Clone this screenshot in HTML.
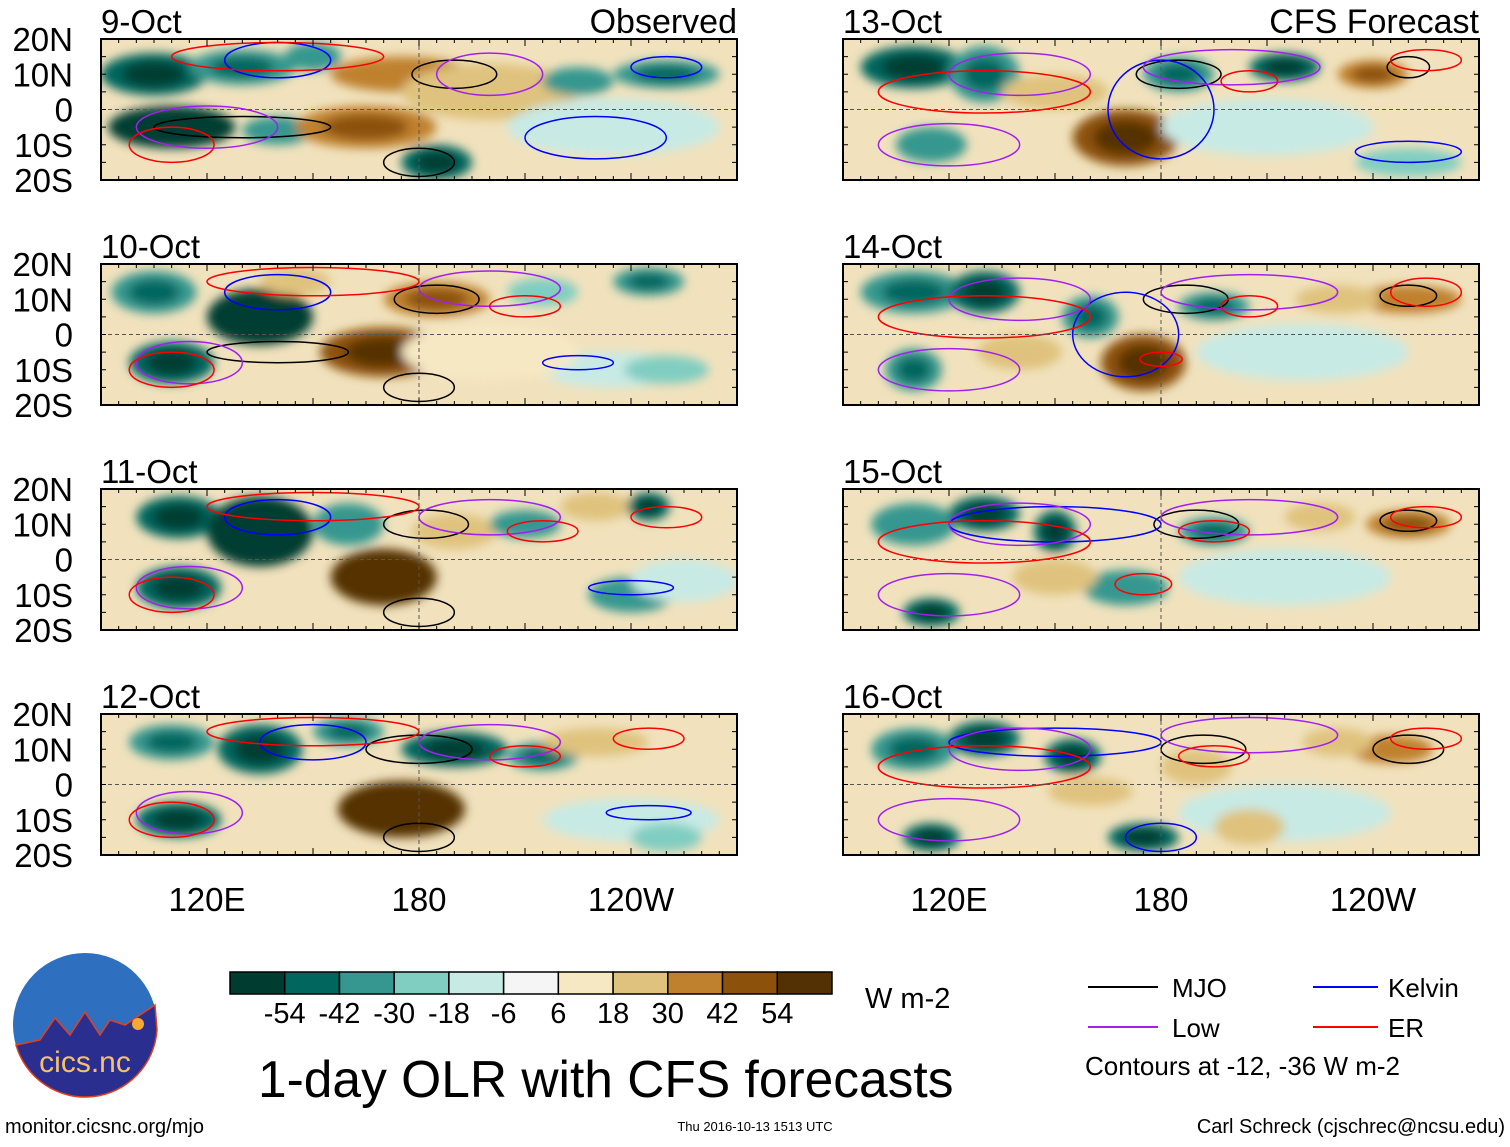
<!DOCTYPE html>
<html><head><meta charset="utf-8"><style>
body{margin:0;background:#fff;width:1510px;height:1142px;overflow:hidden;font-family:"Liberation Sans",sans-serif}
svg text{font-family:"Liberation Sans",sans-serif}
</style></head><body>
<svg id="chart" width="1510" height="1142" viewBox="0 0 1510 1142" xmlns="http://www.w3.org/2000/svg">
<defs>
<filter id="blur" x="-20%" y="-20%" width="140%" height="140%"><feGaussianBlur stdDeviation="5"/></filter>
</defs>
<g id="panels"></g>
<g id="colorbar"></g>
<text x="865" y="1008" font-size="29">W m-2</text>
<text x="258" y="1097" font-size="51.5">1-day OLR with CFS forecasts</text>
<g>
<line x1="1088" y1="987" x2="1158" y2="987" stroke="#000" stroke-width="2"/><text x="1172" y="997" font-size="26">MJO</text>
<line x1="1313" y1="987" x2="1378" y2="987" stroke="#0000ff" stroke-width="2"/><text x="1388" y="997" font-size="26">Kelvin</text>
<line x1="1088" y1="1027" x2="1158" y2="1027" stroke="#a020f0" stroke-width="2"/><text x="1172" y="1037" font-size="26">Low</text>
<line x1="1313" y1="1027" x2="1378" y2="1027" stroke="#ff0000" stroke-width="2"/><text x="1388" y="1037" font-size="26">ER</text>
<text x="1085" y="1075" font-size="26">Contours at -12, -36 W m-2</text>
</g>
<g>
<circle cx="85" cy="1025" r="72" fill="#2e6fc0"/>
<path d="M16 1045 L40 1040 L55 1018 L70 1035 L85 1012 L100 1035 L110 1020 L125 1025 L155 1005 L157 1030 A72 72 0 0 1 16 1045Z" fill="#2a2f8f" stroke="#e04020" stroke-width="1.5"/>
<circle cx="138" cy="1024" r="6" fill="#f6a830"/>
<text x="85" y="1072" font-size="30" fill="#f6c070" text-anchor="middle">cics.nc</text>
</g>
<text x="5" y="1133" font-size="20">monitor.cicsnc.org/mjo</text>
<text x="755" y="1131" font-size="13" text-anchor="middle">Thu 2016-10-13 1513 UTC</text>
<text x="1505" y="1133" font-size="20" text-anchor="end">Carl Schreck (cjschrec@ncsu.edu)</text>
</svg>
<script>
const levels=['-54','-42','-30','-18','-6','6','18','30','42','54'];
const colors=['#003c30','#01665e','#35978f','#80cdc1','#c7eae5','#f5f5f5','#f6e8c3','#dfc27d','#bf812d','#8c510a','#543005'];
const dates=['9-Oct','10-Oct','11-Oct','12-Oct','13-Oct','14-Oct','15-Oct','16-Oct'];
const latTicks=['20N','10N','0','10S','20S'];
const lonTicks=[[120,'120E'],[180,'180'],[240,'120W']];
// blobs: [lon, lat, rlon, rlat, olr anomaly]
const blobsObs=[
 [[105,10,15,6,-50],[130,12,15,5,-40],[110,-5,18,6,-55],[140,-6,10,4,-30],[165,-5,20,6,40],[175,10,20,5,35],[185,-15,10,5,-50],[200,5,25,8,20],[225,8,10,4,-30],[250,10,15,4,-40],[235,-5,30,8,-6],[150,15,8,4,-30]],
 [[105,12,12,6,-40],[135,5,15,8,-55],[110,-8,12,6,-50],[170,-5,18,7,50],[185,10,15,5,40],[215,12,10,4,-20],[235,-10,20,5,-10],[250,-10,12,4,-25],[145,15,10,4,25],[200,-5,25,8,15],[245,15,10,4,-40]],
 [[112,12,12,6,-45],[135,8,15,10,-55],[112,-8,12,6,-45],[170,-5,15,8,55],[160,10,10,6,-35],[190,8,12,5,30],[210,10,10,4,-30],[240,-10,12,5,-35],[255,-6,15,6,-6],[230,15,10,4,30],[245,15,6,4,-45]],
 [[110,12,12,5,-40],[135,10,12,7,-45],[112,-10,12,5,-45],[175,-7,18,8,55],[190,10,15,5,-45],[160,15,10,4,-40],[215,8,10,4,-40],[240,-10,25,6,-6],[250,-15,10,4,-20],[230,12,15,4,25]],
 [[110,12,15,6,-45],[130,10,10,8,-40],[150,5,15,5,30],[170,-8,15,8,45],[185,10,10,5,-40],[215,12,10,4,-45],[240,10,10,4,40],[210,-5,30,8,-6],[250,-15,15,4,-20],[115,-10,10,5,-30]],
 [[110,12,15,6,-40],[130,12,10,6,-45],[160,5,8,6,-40],[175,-8,12,8,45],[195,8,10,4,-40],[250,10,15,4,35],[220,-5,30,8,-6],[110,-10,8,6,-40],[140,-5,12,5,20],[230,10,12,4,20]],
 [[110,10,12,6,-35],[130,13,10,5,-45],[150,8,6,6,-45],[170,-8,12,5,-30],[195,8,10,4,-40],[250,10,12,4,40],[215,-5,30,8,-6],[115,-15,8,4,-50],[150,-5,12,5,25],[225,12,10,4,20]],
 [[110,10,12,6,-40],[130,13,10,5,-50],[155,8,8,5,-45],[175,-15,10,4,-50],[190,5,10,5,30],[245,10,12,4,35],[215,-8,30,8,-6],[115,-15,8,4,-50],[205,-12,10,5,30],[230,12,10,4,20],[160,-2,12,4,25]]
];
// contours: [lon, lat, rlon, rlat, type]
const contours=[
 [[190,10,12,4,'mjo'],[130,-5,25,3,'mjo'],[180,-15,10,4,'mjo'],[140,14,15,5,'kelvin'],[200,10,15,6,'low'],[140,15,30,4,'er'],[120,-5,20,6,'low'],[230,-8,20,6,'kelvin'],[110,-10,12,5,'er'],[250,12,10,3,'kelvin']],
 [[185,10,12,4,'mjo'],[140,-5,20,3,'mjo'],[180,-15,10,4,'mjo'],[140,12,15,5,'kelvin'],[200,13,20,5,'low'],[150,15,30,4,'er'],[115,-8,15,6,'low'],[225,-8,10,2,'kelvin'],[110,-10,12,5,'er'],[210,8,10,3,'er']],
 [[182,10,12,4,'mjo'],[180,-15,10,4,'mjo'],[140,12,15,5,'kelvin'],[200,12,20,5,'low'],[150,15,30,4,'er'],[115,-8,15,6,'low'],[240,-8,12,2,'kelvin'],[110,-10,12,5,'er'],[215,8,10,3,'er'],[250,12,10,3,'er']],
 [[180,10,15,4,'mjo'],[180,-15,10,4,'mjo'],[150,12,15,5,'kelvin'],[200,12,20,5,'low'],[150,15,30,4,'er'],[115,-8,15,6,'low'],[245,-8,12,2,'kelvin'],[110,-10,12,5,'er'],[210,8,10,3,'er'],[245,13,10,3,'er']],
 [[185,10,12,4,'mjo'],[250,12,6,3,'mjo'],[180,0,15,14,'kelvin'],[140,10,20,6,'low'],[200,12,25,5,'low'],[130,5,30,6,'er'],[120,-10,20,6,'low'],[250,-12,15,3,'kelvin'],[205,8,8,3,'er'],[255,14,10,3,'er']],
 [[187,10,12,4,'mjo'],[250,11,8,3,'mjo'],[170,0,15,12,'kelvin'],[140,10,20,6,'low'],[205,12,25,5,'low'],[130,5,30,6,'er'],[120,-10,20,6,'low'],[180,-7,6,2,'er'],[205,8,8,3,'er'],[255,12,10,4,'er']],
 [[190,10,12,4,'mjo'],[250,11,8,3,'mjo'],[150,10,30,5,'kelvin'],[140,10,20,6,'low'],[205,12,25,5,'low'],[130,5,30,6,'er'],[120,-10,20,6,'low'],[175,-7,8,3,'er'],[195,8,10,3,'er'],[255,12,10,3,'er']],
 [[192,10,12,4,'mjo'],[250,10,10,4,'mjo'],[150,12,30,4,'kelvin'],[140,10,20,6,'low'],[205,14,25,5,'low'],[130,5,30,6,'er'],[120,-10,20,6,'low'],[180,-15,10,4,'kelvin'],[195,8,10,3,'er'],[255,13,10,3,'er']]
];
const ctColor={mjo:'#000',kelvin:'#0000ff',low:'#a020f0',er:'#ff0000'};
const NS='http://www.w3.org/2000/svg';
const PW=636,PH=141;
const originsX=[101,843],originsY=[39,264,489,714];
function colorFor(v){const b=[-54,-42,-30,-18,-6,6,18,30,42,54];let i=0;while(i<b.length&&v>b[i])i++;return colors[i];}
function mk(t,a,p){const e=document.createElementNS(NS,t);for(const k in a)e.setAttribute(k,a[k]);p.appendChild(e);return e;}
const root=document.getElementById('panels');
for(let i=0;i<8;i++){
 const col=i<4?0:1,row=i%4;
 const ox=originsX[col],oy=originsY[row];
 const xs=lon=>ox+(lon-90)/180*PW, ys=lat=>oy+(20-lat)/40*PH;
 const g=mk('g',{},root);
 
 
 const cid='clip'+i;
 const cp=mk('clipPath',{id:cid},g);mk('rect',{x:ox,y:oy,width:PW,height:PH},cp);
 const inner=mk('g',{'clip-path':'url(#'+cid+')'},g);
 mk('rect',{x:ox,y:oy,width:PW,height:PH,fill:'#f1e2bd'},inner);
 const bg=mk('g',{filter:'url(#blur)'},inner);
 blobsObs[i].forEach(b=>{
  const e=mk('ellipse',{cx:xs(b[0]),cy:ys(b[1]),rx:b[2]/180*PW,ry:b[3]/40*PH,fill:colorFor(b[4])},bg);
  
  
  if(Math.abs(b[4])>35){mk('ellipse',{cx:xs(b[0]),cy:ys(b[1]),rx:b[2]/180*PW*0.6,ry:b[3]/40*PH*0.6,fill:colorFor(b[4]*1.3)},bg);}
 });
 contours[i].forEach(c=>{
  const e=mk('ellipse',{cx:xs(c[0]),cy:ys(c[1]),rx:c[2]/180*PW,ry:c[3]/40*PH,fill:'none',stroke:ctColor[c[4]],'stroke-width':1.5},inner);
  
  
 });
 mk('line',{x1:ox,y1:ys(0),x2:ox+PW,y2:ys(0),stroke:'#555','stroke-dasharray':'4,3','stroke-width':1},inner);
 mk('line',{x1:xs(180),y1:oy,x2:xs(180),y2:oy+PH,stroke:'#555','stroke-dasharray':'4,3','stroke-width':1},inner);
 mk('rect',{x:ox,y:oy,width:PW,height:PH,fill:'none',stroke:'#000','stroke-width':2},g);
 for(let l=95;l<270;l+=5){const len=(l%30==0)?7:4;mk('line',{x1:xs(l),y1:oy,x2:xs(l),y2:oy+len,stroke:'#000'},g);mk('line',{x1:xs(l),y1:oy+PH,x2:xs(l),y2:oy+PH-len,stroke:'#000'},g);}
 for(let la=-15;la<=15;la+=5){mk('line',{x1:ox,y1:ys(la),x2:ox+5,y2:ys(la),stroke:'#000'},g);mk('line',{x1:ox+PW,y1:ys(la),x2:ox+PW-5,y2:ys(la),stroke:'#000'},g);}
 const t=mk('text',{x:ox,y:oy-6,'font-size':33},g);t.textContent=dates[i];
 
 
 if(row==0){const h=mk('text',{x:ox+PW,y:oy-6,'font-size':34,'text-anchor':'end'},g);h.textContent=col==0?'Observed':'CFS Forecast';}
 if(col==0){latTicks.forEach((s,k)=>{const tt=mk('text',{x:73,y:ys(20-k*10)+12,'font-size':33,'text-anchor':'end'},g);tt.textContent=s;});}
 if(row==3){lonTicks.forEach(lt=>{const tt=mk('text',{x:xs(lt[0]),y:911,'font-size':33,'text-anchor':'middle'},g);tt.textContent=lt[1];});}
}
const cb=document.getElementById('colorbar');
const bw=(832-230)/11;
colors.forEach((c,k)=>{const r=mk('rect',{x:230+k*bw,y:972,width:bw,height:22,fill:c,stroke:'#000','stroke-width':1.5},cb);
 
 });
levels.forEach((s,k)=>{const t=mk('text',{x:230+(k+1)*bw,y:1023,'font-size':29,'text-anchor':'middle'},cb);t.textContent=s;});
</script>
</body></html>
